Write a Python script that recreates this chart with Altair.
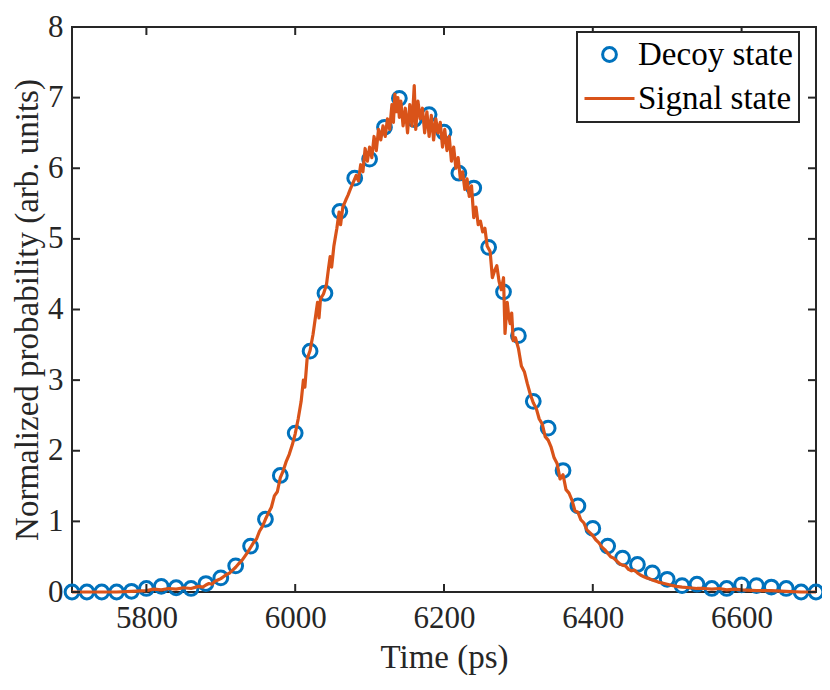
import altair as alt
import pandas as pd

# ---- Data ----
decoy_time = [5700, 5720, 5740, 5760, 5780, 5800, 5820, 5840, 5860, 5880,
              5900, 5920, 5940, 5960, 5980, 6000, 6020, 6040, 6060, 6080,
              6100, 6120, 6140, 6160, 6180, 6200, 6220, 6240, 6260, 6280,
              6300, 6320, 6340, 6360, 6380, 6400, 6420, 6440, 6460, 6480,
              6500, 6520, 6540, 6560, 6580, 6600, 6620, 6640, 6660, 6680, 6700]
decoy_prob = [0.0, 0.0, 0.0, 0.0, 0.01, 0.05, 0.08, 0.06, 0.05, 0.12,
              0.2, 0.37, 0.65, 1.03, 1.65, 2.25, 3.41, 4.23, 5.39, 5.86,
              6.13, 6.58, 6.99, 6.69, 6.76, 6.51, 5.93, 5.72, 4.88, 4.25,
              3.63, 2.70, 2.32, 1.72, 1.22, 0.90, 0.65, 0.48, 0.39, 0.27,
              0.18, 0.09, 0.11, 0.05, 0.05, 0.10, 0.09, 0.07, 0.05, 0.0, 0.0]

signal_time = [5700, 5720, 5740, 5760, 5780, 5800, 5810, 5820, 5830, 5840,
               5850, 5860, 5870, 5876, 5880, 5884, 5888, 5892, 5896, 5900,
               5904, 5908, 5912, 5916, 5920, 5924, 5928, 5932, 5936, 5940,
               5944, 5948, 5952, 5956, 5960, 5964, 5968, 5972, 5976, 5980,
               5984, 5988, 5992, 5996, 6000, 6004, 6008, 6011, 6013, 6016,
               6020, 6024, 6028, 6030, 6032, 6034, 6038, 6042, 6045, 6047,
               6049, 6052, 6056, 6059, 6061, 6064, 6068, 6071, 6074, 6078,
               6082, 6085, 6088, 6091, 6094, 6097, 6100, 6103, 6106, 6109,
               6112, 6115, 6118, 6121, 6124, 6127, 6130, 6132, 6134, 6136,
               6138, 6140, 6142, 6145, 6148, 6151, 6154, 6157, 6160, 6162,
               6165, 6168, 6171, 6174, 6177, 6180, 6183, 6186, 6189, 6192,
               6195, 6198, 6201, 6204, 6207, 6210, 6213, 6216, 6219, 6222,
               6225, 6228, 6231, 6234, 6237, 6240, 6243, 6246, 6249, 6252,
               6255, 6258, 6262, 6265, 6268, 6271, 6274, 6277, 6280, 6282,
               6285, 6287, 6289, 6291, 6293, 6296, 6300, 6304, 6308, 6312,
               6316, 6320, 6324, 6328, 6332, 6336, 6340, 6344, 6348, 6352,
               6356, 6360, 6364, 6368, 6372, 6376, 6380, 6384, 6388, 6392,
               6396, 6400, 6404, 6408, 6412, 6416, 6420, 6424, 6428, 6432,
               6436, 6440, 6444, 6448, 6452, 6456, 6460, 6464, 6468, 6472,
               6476, 6480, 6488, 6496, 6504, 6512, 6520, 6530, 6540, 6550,
               6560, 6570, 6580, 6590, 6600, 6620, 6640, 6660, 6680, 6700]
signal_prob = [0.0, 0.0, 0.0, 0.0, 0.01, 0.02, 0.04, 0.03, 0.05, 0.04,
               0.06, 0.05, 0.08, 0.07, 0.10, 0.12, 0.11, 0.15, 0.17, 0.19,
               0.22, 0.25, 0.27, 0.31, 0.35, 0.40, 0.44, 0.50, 0.56, 0.63,
               0.70, 0.75, 0.86, 0.93, 1.03, 1.12, 1.20, 1.36, 1.42, 1.62,
               1.72, 1.85, 1.95, 2.08, 2.24, 2.45, 2.70, 3.00, 2.90, 3.30,
               3.42, 3.65, 3.95, 4.10, 3.88, 4.15, 4.22, 4.35, 4.60, 4.75,
               4.60, 4.90, 5.15, 5.38, 5.20, 5.45, 5.55, 5.62, 5.70, 5.80,
               5.90, 5.82, 6.05, 5.95, 6.28, 6.10, 6.30, 6.15, 6.45, 6.25,
               6.55, 6.40, 6.60, 6.45, 6.70, 6.55, 6.90, 6.65, 7.05, 6.80,
               7.00, 6.72, 6.95, 6.60, 6.85, 6.50, 6.90, 6.60, 7.17, 6.55,
               6.95, 6.70, 6.85, 6.50, 6.80, 6.45, 6.75, 6.40, 6.70, 6.50,
               6.65, 6.30, 6.55, 6.25, 6.45, 6.10, 6.30, 6.00, 6.15, 5.85,
               5.95, 5.70, 5.85, 5.60, 5.75, 5.30, 5.45, 5.20, 5.25, 5.10,
               5.15, 4.90, 4.82, 4.45, 4.55, 4.62, 4.40, 4.28, 4.45, 3.66,
               4.10, 3.90, 3.80, 3.95, 3.56, 3.60, 3.45, 3.20, 3.12, 2.95,
               2.80, 2.68, 2.60, 2.45, 2.38, 2.20, 2.15, 2.05, 1.90, 1.82,
               1.60, 1.66, 1.45, 1.40, 1.30, 1.15, 1.13, 1.02, 0.98, 0.88,
               0.84, 0.80, 0.74, 0.70, 0.64, 0.60, 0.55, 0.50, 0.48, 0.44,
               0.40, 0.38, 0.37, 0.32, 0.30, 0.31, 0.27, 0.24, 0.22, 0.20,
               0.19, 0.17, 0.14, 0.12, 0.10, 0.08, 0.07, 0.06, 0.05, 0.05,
               0.04, 0.05, 0.03, 0.04, 0.03, 0.02, 0.02, 0.01, 0.0, 0.0]

x_ticks = [5800, 6000, 6200, 6400, 6600]
y_ticks = [0, 1, 2, 3, 4, 5, 6, 7, 8]
series_names = ["Decoy state", "Signal state"]
series_colors = ["#0072BD", "#D95319"]
series_shapes = ["circle", "stroke"]
series_sizes = [190, 2500]

W, H = 744, 565
FONT = "Liberation Serif"
AX = "#262626"

decoy_df = pd.DataFrame({"t": decoy_time, "p": decoy_prob, "series": series_names[0]})
signal_df = pd.DataFrame({"t": signal_time, "p": signal_prob, "series": series_names[1]})
xt_df = pd.DataFrame({"t": x_ticks})
yt_df = pd.DataFrame({"p": y_ticks})

xscale = alt.Scale(domain=[5700, 6700], nice=False, zero=False)
yscale = alt.Scale(domain=[0, 8], nice=False)
cscale = alt.Scale(domain=series_names, range=series_colors)
sscale = alt.Scale(domain=series_names, range=series_shapes)
zscale = alt.Scale(domain=series_names, range=series_sizes)

xaxis = alt.Axis(values=x_ticks, title="Time (ps)", grid=False, domain=False, ticks=False,
                 labelPadding=11, titlePadding=8, format="d")
yaxis = alt.Axis(values=y_ticks, title="Normalized probability (arb. units)", grid=False,
                 domain=False, ticks=False, labelPadding=9, titlePadding=3, format="d")

legend = alt.Legend(title=None, orient="none", legendX=505, legendY=5)

points = alt.Chart(decoy_df).mark_point(
    filled=False, strokeWidth=3, opacity=1, clip=False
).encode(
    x=alt.X("t:Q", scale=xscale, axis=xaxis),
    y=alt.Y("p:Q", scale=yscale, axis=yaxis),
    color=alt.Color("series:N", scale=cscale, legend=legend),
    shape=alt.Shape("series:N", scale=sscale, legend=legend),
    size=alt.Size("series:N", scale=zscale, legend=legend),
)

line = alt.Chart(signal_df).mark_line(strokeWidth=3.2, strokeJoin="round").encode(
    x=alt.X("t:Q", scale=xscale),
    y=alt.Y("p:Q", scale=yscale),
    color=alt.Color("series:N", scale=cscale, legend=legend),
)

xtick_bot = alt.Chart(xt_df).mark_rule(color=AX, strokeWidth=2).encode(
    x=alt.X("t:Q", scale=xscale), y=alt.value(H), y2=alt.value(H - 8))
xtick_top = alt.Chart(xt_df).mark_rule(color=AX, strokeWidth=2).encode(
    x=alt.X("t:Q", scale=xscale), y=alt.value(0), y2=alt.value(8))
ytick_l = alt.Chart(yt_df).mark_rule(color=AX, strokeWidth=2).encode(
    y=alt.Y("p:Q", scale=yscale), x=alt.value(0), x2=alt.value(8))
ytick_r = alt.Chart(yt_df).mark_rule(color=AX, strokeWidth=2).encode(
    y=alt.Y("p:Q", scale=yscale), x=alt.value(W), x2=alt.value(W - 8))

chart = alt.layer(points, line, xtick_bot, xtick_top, ytick_l, ytick_r).properties(
    width=W, height=H,
    autosize=alt.AutoSizeParams(type="none"),
    padding={"left": 64, "top": 19, "right": 6, "bottom": 90},
    background="white",
).configure_view(
    stroke=AX, strokeWidth=2
).configure_axis(
    labelFont=FONT, titleFont=FONT, labelFontSize=31, titleFontSize=33,
    labelColor=AX, titleColor=AX, titleFontWeight="normal",
).configure_legend(
    labelFont=FONT, labelFontSize=33, labelColor="#000000",
    strokeColor=AX, strokeWidth=2, fillColor="white", padding=6,
    cornerRadius=0, symbolStrokeWidth=3, rowPadding=0, labelOffset=2,
)

chart.save("out.html", embed_options={"renderer": "svg", "actions": False})
